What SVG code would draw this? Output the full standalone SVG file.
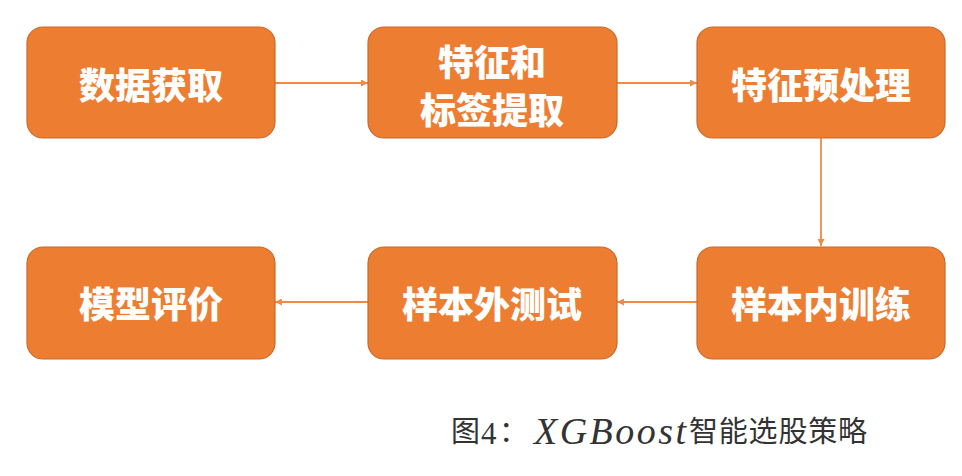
<svg xmlns="http://www.w3.org/2000/svg" width="962" height="476" viewBox="0 0 962 476">
<defs>
<style>
.box{fill:#ED7D31;stroke:#C96A2B;stroke-width:1.2}
.lbl{font-family:"Noto Sans CJK SC","Noto Sans",sans-serif;font-weight:900;font-size:36px;fill:#FFFFFF;text-anchor:middle;dominant-baseline:central}
.con{stroke:#F08A4B;stroke-width:1.8;fill:none;marker-end:url(#ah)}
.cap{font-family:"Noto Sans CJK SC",sans-serif;font-size:29px;fill:#333333}
.capser{font-family:"Liberation Serif",serif;fill:#333333}
</style>
<marker id="ah" viewBox="0 0 10 10" refX="10" refY="5" markerWidth="7" markerHeight="7" markerUnits="userSpaceOnUse" orient="auto">
<path d="M0,0 L10,5 L0,10 z" fill="#F08A4B"/>
</marker>
</defs>
<rect width="962" height="476" fill="#FFFFFF"/>
<g id="connectors">
<line class="con" x1="275" y1="83" x2="368" y2="83"/>
<line class="con" x1="617" y1="83" x2="697" y2="83"/>
<line class="con" x1="821" y1="138" x2="821" y2="246"/>
<line class="con" x1="697" y1="302" x2="617" y2="302"/>
<line class="con" x1="368" y1="302" x2="275" y2="302"/>
</g>
<g id="node-data">
<rect class="box" x="27" y="27" width="248" height="111" rx="16"/>
<text class="lbl" x="151" y="83">数据获取</text>
</g>
<g id="node-feature-label">
<rect class="box" x="368" y="27" width="249" height="111" rx="16"/>
<text class="lbl" x="492" y="60" font-size="35">特征和</text>
<text class="lbl" x="492" y="108" font-size="35">标签提取</text>
</g>
<g id="node-preprocess">
<rect class="box" x="697" y="27" width="248" height="111" rx="16"/>
<text class="lbl" x="821" y="83">特征预处理</text>
</g>
<g id="node-train">
<rect class="box" x="697" y="247" width="248" height="112" rx="16"/>
<text class="lbl" x="821" y="302">样本内训练</text>
</g>
<g id="node-test">
<rect class="box" x="368" y="247" width="249" height="112" rx="16"/>
<text class="lbl" x="492" y="302">样本外测试</text>
</g>
<g id="node-eval">
<rect class="box" x="27" y="247" width="248" height="112" rx="16"/>
<text class="lbl" x="151" y="302">模型评价</text>
</g>
<g id="caption">
<text class="cap" x="451" y="442">图</text>
<text class="capser" x="481" y="444" font-size="31">4</text>
<text class="cap" x="499" y="442">：</text>
<text class="capser" x="534" y="444" font-size="38" font-style="italic" textLength="152" lengthAdjust="spacing">XGBoost</text>
<text class="cap" x="689" y="442" textLength="178" lengthAdjust="spacing">智能选股策略</text>
</g>
</svg>
